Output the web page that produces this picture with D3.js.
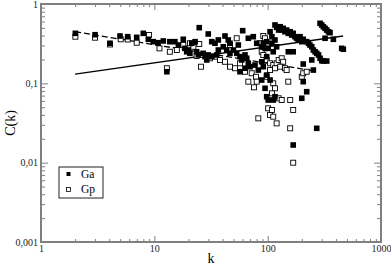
<!DOCTYPE html>
<html>
<head>
<meta charset="utf-8">
<script src="https://cdn.jsdelivr.net/npm/d3@7"></script>
<style>
  body { margin: 0; background: #fff; }
  svg { display: block; }
  text { font-family: "Liberation Serif", "DejaVu Serif", serif; }
</style>
</head>
<body>
<svg id="svg" width="391" height="266"></svg>
<script>
// k, C(k) for Ga (filled)
const gaK = [2.01, 3.0, 4.06, 4.98, 5.82, 6.99, 7.99, 8.85, 9.79, 10.8, 12.0, 13.7, 15.2, 16.3, 18.0, 18.6, 19.9, 21.4, 22.9, 24.9,
  29.9, 32.1, 34.3, 36.7, 42.0, 44.9, 46.5, 55.1, 60.2, 67.5, 74.7, 80.1, 19.3, 20.6, 23.6, 24.4, 27.0, 28.0, 29.9, 29.0,
  32.1, 35.5, 36.7, 40.6, 43.5, 46.5, 49.8, 53.3, 57.0, 59.0, 63.1, 65.3, 67.5, 57.0, 63.1, 69.9, 77.3, 82.7, 12.9,
  290, 300, 310, 321, 332, 344, 355, 116, 120, 125, 129, 133, 137, 142, 147, 152, 158, 163, 168, 174,
  180, 186, 193, 200, 206, 221, 229, 236, 245, 253, 262, 271, 281, 290, 300, 310, 332, 321, 380, 450,
  465, 245, 206, 253, 105, 109, 98, 91.5, 88.6, 94.8, 101, 109, 116, 120, 112, 152, 168, 98, 88.6, 91.5,
  88.6, 105, 94.8, 98, 101, 112, 116, 206, 221, 200, 271, 98, 168];
const gaC = [0.427, 0.410, 0.320, 0.395, 0.387, 0.380, 0.427, 0.359, 0.335, 0.325, 0.342, 0.335, 0.335, 0.304, 0.359, 0.276, 0.263, 0.320, 0.335, 0.503,
  0.419, 0.335, 0.320, 0.352, 0.395, 0.352, 0.320, 0.304, 0.461, 0.370, 0.387, 0.320, 0.250, 0.239, 0.250, 0.228, 0.239, 0.217, 0.228, 0.197,
  0.217, 0.228, 0.263, 0.289, 0.263, 0.239, 0.263, 0.239, 0.217, 0.197, 0.228, 0.207, 0.179, 0.140, 0.155, 0.162, 0.170, 0.147, 0.140,
  0.571, 0.544, 0.517, 0.494, 0.470, 0.447, 0.435, 0.544, 0.508, 0.470, 0.517, 0.470, 0.494, 0.447, 0.470, 0.427, 0.447, 0.407, 0.427, 0.387,
  0.370, 0.352, 0.387, 0.335, 0.359, 0.335, 0.320, 0.304, 0.289, 0.263, 0.250, 0.239, 0.228, 0.207, 0.193, 0.191, 0.191, 0.370, 0.359, 0.276,
  0.269, 0.197, 0.175, 0.147, 0.447, 0.387, 0.335, 0.320, 0.289, 0.276, 0.276, 0.320, 0.352, 0.289, 0.250, 0.250, 0.250, 0.217, 0.187, 0.162,
  0.110, 0.110, 0.0866, 0.0678, 0.0616, 0.0616, 0.0678, 0.105, 0.0784, 0.0648, 0.0271, 0.127, 0.0167];

// k, C(k) for Gp (open)
const gpK = [2.01, 3.0, 4.06, 5.05, 5.82, 6.99, 8.97, 11.1, 13.7, 15.8, 18.0, 22.1, 24.9, 20.6, 26.2, 23.6, 25.8, 12.9, 31.0, 34.3,
  38.0, 42.0, 46.5, 51.5, 57.0, 63.1, 67.5, 72.3, 75.8, 78.9, 80.1, 82.7, 53.3, 46.5, 91.5, 94.8, 88.6, 91.5, 98, 105,
  112, 120, 125, 133, 137, 129, 142, 147, 116, 105, 98, 112, 116, 109, 125, 133, 158, 152, 200, 206,
  221, 101, 109, 105, 112, 168, 120, 158, 85.6, 168];
const gpC = [0.387, 0.376, 0.309, 0.359, 0.357, 0.325, 0.407, 0.276, 0.250, 0.263, 0.304, 0.289, 0.313, 0.320, 0.228, 0.221, 0.162, 0.155, 0.207, 0.217,
  0.197, 0.187, 0.162, 0.155, 0.179, 0.140, 0.105, 0.134, 0.0891, 0.121, 0.105, 0.0362, 0.370, 0.304, 0.395, 0.370, 0.250, 0.228, 0.197, 0.179,
  0.170, 0.179, 0.197, 0.207, 0.187, 0.162, 0.155, 0.147, 0.155, 0.147, 0.121, 0.100, 0.0866, 0.0748, 0.0648, 0.0616, 0.0616, 0.105, 0.121, 0.134,
  0.140, 0.0484, 0.0461, 0.0399, 0.0380, 0.0461, 0.0313, 0.0271, 0.320, 0.00999];

// power-law fits (end points)
const fitGaK = [2, 463];
const fitGaC = [0.131, 0.395];
const fitGpK = [2, 262];
const fitGpC = [0.447, 0.143];

const xMajor = [1, 10, 100, 1000];
const yMajor = [0.001, 0.01, 0.1, 1];
const yLabels = ['0,001', '0,01', '0,1', '1'];
const legendNames = ['Ga', 'Gp'];

const svg = d3.select('#svg');
const mLeft = 41, mRight = 381, mTop = 4, mBottom = 242;

const x = d3.scaleLog().domain([1, 1000]).range([mLeft, mRight]);
const y = d3.scaleLog().domain([0.001, 1]).range([mBottom, mTop]);

function minors(major) {
    let out = [];
    for (let i = 0; i < major.length - 1; i++)
        for (let m = 2; m < 10; m++) out.push(major[i] * m);
    return out;
}

const axisColor = '#808080';

function drawAxis(axisFn, scale, values, size, transform, labels) {
    const g = svg.append('g').attr('transform', transform)
        .call(axisFn(scale).tickValues(values).tickSizeInner(size).tickSizeOuter(0)
            .tickPadding(3)
            .tickFormat(labels ? (d, i) => labels[i] : ''));
    g.select('.domain').remove();
    g.selectAll('line').attr('stroke', axisColor).attr('stroke-width', 1);
    g.selectAll('text').attr('fill', '#222').style('font-size', '10px')
        .style('font-family', '"Liberation Serif", serif');
    return g;
}

// bottom
drawAxis(d3.axisBottom, x, xMajor, -6, `translate(0,${mBottom})`, xMajor.map(String));
drawAxis(d3.axisBottom, x, minors(xMajor), -3, `translate(0,${mBottom})`, null);
// top
drawAxis(d3.axisTop, x, xMajor, -6, `translate(0,${mTop})`, null);
drawAxis(d3.axisTop, x, minors(xMajor), -3, `translate(0,${mTop})`, null);
// left
drawAxis(d3.axisLeft, y, yMajor, -7, `translate(${mLeft},0)`, yLabels);
drawAxis(d3.axisLeft, y, minors(yMajor), -4, `translate(${mLeft},0)`, null);
// right
drawAxis(d3.axisRight, y, yMajor, -7, `translate(${mRight},0)`, null);
drawAxis(d3.axisRight, y, minors(yMajor), -4, `translate(${mRight},0)`, null);

// frame
svg.append('rect')
    .attr('x', mLeft).attr('y', mTop)
    .attr('width', mRight - mLeft).attr('height', mBottom - mTop)
    .attr('fill', 'none').attr('stroke', axisColor).attr('stroke-width', 2);

// fit lines
const line = d3.line().x(d => x(d[0])).y(d => y(d[1]));
svg.append('path')
    .datum(fitGaK.map((k, i) => [k, fitGaC[i]]))
    .attr('d', line).attr('fill', 'none').attr('stroke', '#000').attr('stroke-width', 1.3);
svg.append('path')
    .datum(fitGpK.map((k, i) => [k, fitGpC[i]]))
    .attr('d', line).attr('fill', 'none').attr('stroke', '#000').attr('stroke-width', 1.3)
    .attr('stroke-dasharray', '6,3');

// points
const gaData = gaK.map((k, i) => [k, gaC[i]]);
const gpData = gpK.map((k, i) => [k, gpC[i]]);

svg.append('g').selectAll('rect')
    .data(gpData)
    .join('rect')
    .attr('x', d => x(d[0]) - 2.5)
    .attr('y', d => y(d[1]) - 2.5)
    .attr('width', 5).attr('height', 5)
    .attr('fill', '#fff').attr('stroke', '#000').attr('stroke-width', 0.9);

svg.append('g').selectAll('rect')
    .data(gaData)
    .join('rect')
    .attr('x', d => x(d[0]) - 2.8)
    .attr('y', d => y(d[1]) - 2.8)
    .attr('width', 5.6).attr('height', 5.6)
    .attr('fill', '#000');

// legend
const lg = svg.append('g').attr('transform', 'translate(59,167)');
lg.append('rect').attr('width', 44).attr('height', 31)
    .attr('fill', '#fff').attr('stroke', '#222').attr('stroke-width', 1);
lg.append('rect').attr('x', 7.5).attr('y', 5).attr('width', 4).attr('height', 4).attr('fill', '#000');
lg.append('rect').attr('x', 7.5).attr('y', 20.5).attr('width', 4).attr('height', 4)
    .attr('fill', '#fff').attr('stroke', '#000').attr('stroke-width', 0.8);
lg.selectAll('text.name')
    .data(legendNames)
    .join('text')
    .attr('class', 'name')
    .attr('x', 22).attr('y', (d, i) => 11 + i * 15)
    .style('font-size', '11.5px').attr('fill', '#000')
    .text(d => d);

// axis titles
svg.append('text')
    .attr('x', 211).attr('y', 263)
    .attr('text-anchor', 'middle')
    .style('font-size', '14px')
    .text('k');
svg.append('text')
    .attr('transform', 'translate(15,123) rotate(-90)')
    .attr('text-anchor', 'middle')
    .style('font-size', '14px')
    .text('C(k)');
</script>
</body>
</html>
